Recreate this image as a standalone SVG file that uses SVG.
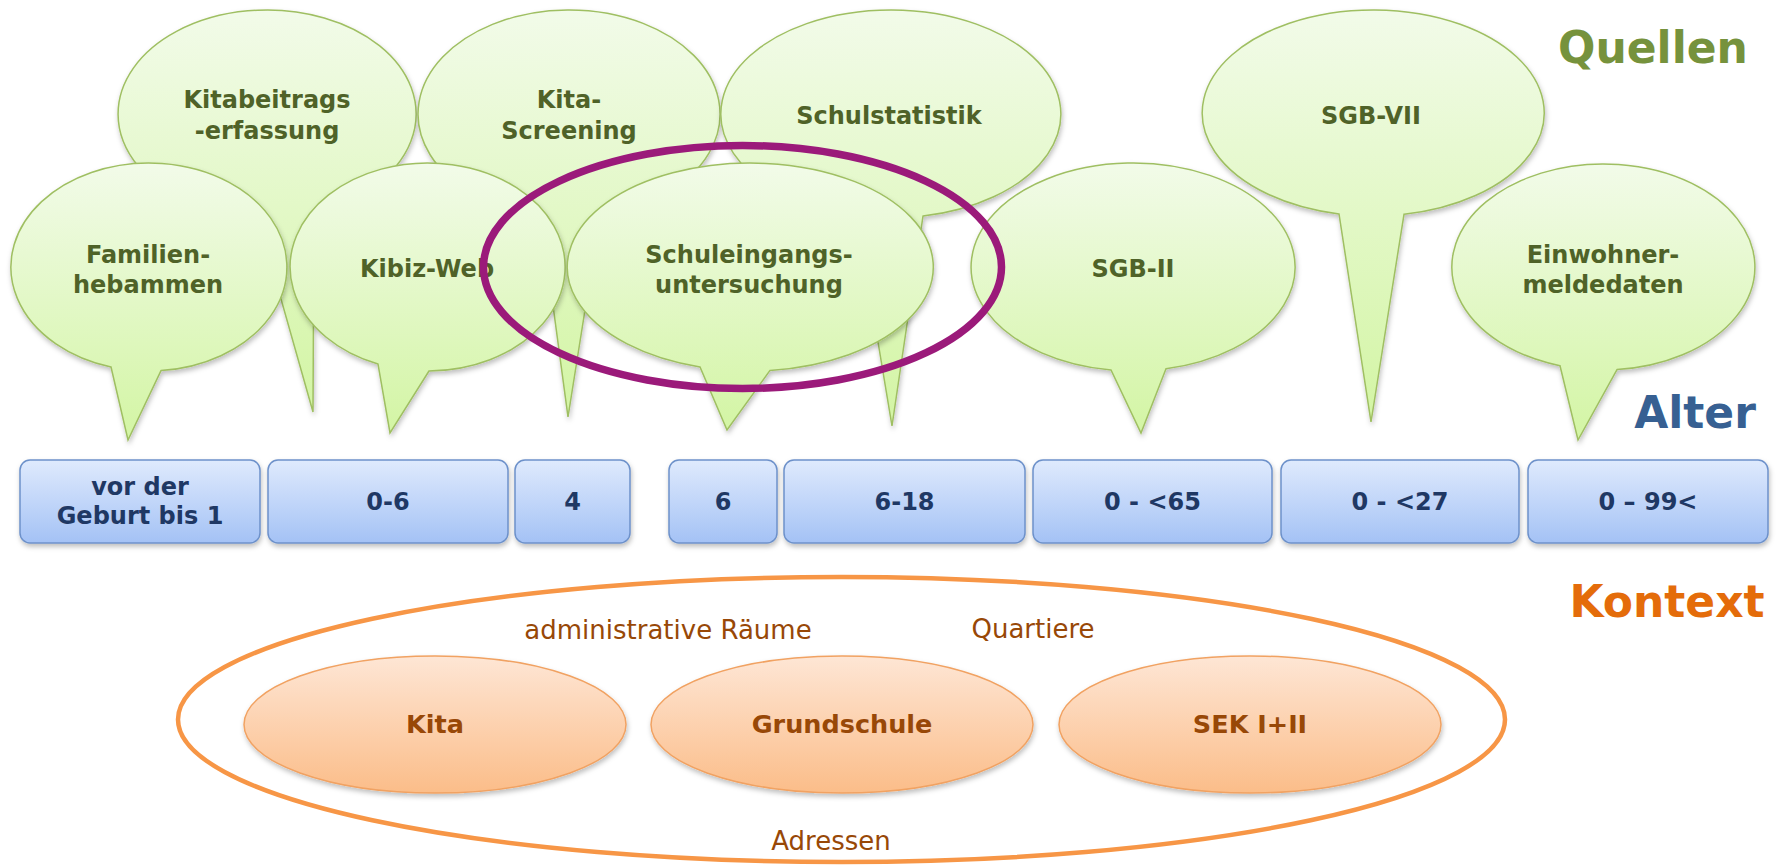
<svg xmlns="http://www.w3.org/2000/svg" width="1781" height="867" viewBox="0 0 1781 867">
<defs>
<linearGradient id="gG" x1="0" y1="0" x2="0" y2="1">
<stop offset="0" stop-color="#f2fbe9"/>
<stop offset="1" stop-color="#d3f5a4"/>
</linearGradient>
<linearGradient id="gB" x1="0" y1="0" x2="0" y2="1">
<stop offset="0" stop-color="#dfeafd"/>
<stop offset="1" stop-color="#a4c2f5"/>
</linearGradient>
<linearGradient id="gO" x1="0" y1="0" x2="0" y2="1">
<stop offset="0" stop-color="#fee6d5"/>
<stop offset="1" stop-color="#fbbd89"/>
</linearGradient>
<filter id="sh" x="-10%" y="-10%" width="120%" height="130%">
<feDropShadow dx="1" dy="3" stdDeviation="2.5" flood-color="#000" flood-opacity="0.25"/>
</filter>
</defs>
<style>
.bub{fill:url(#gG);stroke:#9fbf62;stroke-width:1.5;filter:url(#sh)}
.box{fill:url(#gB);stroke:#6d91ca;stroke-width:1.5;filter:url(#sh)}
.ctx{fill:url(#gO);stroke:#f1a262;stroke-width:1.5;filter:url(#sh)}
.bt{font-family:"DejaVu Sans",Verdana,sans-serif;font-weight:bold;font-size:24px;fill:#4f6228;text-anchor:middle}
.xt{font-family:"DejaVu Sans",Verdana,sans-serif;font-weight:bold;font-size:24px;fill:#1f3864;text-anchor:middle}
.ot{font-family:"DejaVu Sans",Verdana,sans-serif;font-weight:bold;font-size:25.5px;fill:#984807;text-anchor:middle}
.rt{font-family:"DejaVu Sans",Verdana,sans-serif;font-size:26px;fill:#984807;text-anchor:middle}
.hd{font-family:"DejaVu Sans",Verdana,sans-serif;font-weight:bold;font-size:44px;text-anchor:middle}
</style>
<rect width="1781" height="867" fill="#ffffff"/>

<!-- back row bubbles -->
<g id="kitabeitrags">
<path class="bub" d="M 314 212.7 L 313 412 L 258 217.8 A 149 104 0 1 1 314 212.7 Z"/>
<text class="bt" x="267" y="108">Kitabeitrags</text>
<text class="bt" x="267" y="139">-erfassung</text>
</g>
<g id="kita-screening">
<path class="bub" d="M 600 215.8 L 568 417 L 541 216.2 A 151 104 0 1 1 600 215.8 Z"/>
<text class="bt" x="569" y="108">Kita-</text>
<text class="bt" x="569" y="139">Screening</text>
</g>
<g id="schulstatistik">
<path class="bub" d="M 923 216.1 L 892 426 L 857 215.9 A 170 104 0 1 1 923 216.1 Z"/>
<text class="bt" x="889" y="124">Schulstatistik</text>
</g>
<g id="sgb-vii">
<path class="bub" d="M 1404 214.3 L 1371 422 L 1339 213.9 A 171 103 0 1 1 1404 214.3 Z"/>
<text class="bt" x="1371" y="124">SGB-VII</text>
</g>

<!-- front row bubbles -->
<g id="familienhebammen">
<path class="bub" d="M 161 370.6 L 128 440 L 111 367 A 138 104 0 1 1 161 370.6 Z"/>
<text class="bt" x="148" y="263">Familien-</text>
<text class="bt" x="148" y="293">hebammen</text>
</g>
<g id="kibiz-web">
<path class="bub" d="M 429 371 L 390 433 L 378 364 A 137.5 104 0 1 1 429 371 Z"/>
<text class="bt" x="427" y="277">Kibiz-Web</text>
</g>
<g id="schuleingangsuntersuchung">
<path class="bub" d="M 770 370.4 L 727 430 L 700 367 A 183 104 0 1 1 770 370.4 Z"/>
<text class="bt" x="749" y="263">Schuleingangs-</text>
<text class="bt" x="749" y="293">untersuchung</text>
</g>
<g id="sgb-ii">
<path class="bub" d="M 1166 368.8 L 1141 433 L 1111 370 A 162 104 0 1 1 1166 368.8 Z"/>
<text class="bt" x="1133" y="277">SGB-II</text>
</g>
<g id="einwohnermeldedaten">
<path class="bub" d="M 1617 369.6 L 1578 440 L 1560 365.7 A 151.5 103 0 1 1 1617 369.6 Z"/>
<text class="bt" x="1603" y="263">Einwohner-</text>
<text class="bt" x="1603" y="293">meldedaten</text>
</g>

<!-- highlight -->
<g id="highlight">
<ellipse cx="742.5" cy="267" rx="259" ry="121.5" fill="none" stroke="#9b1a7a" stroke-width="7.5"/>
</g>

<!-- headings -->
<g id="headings">
<text class="hd" x="1653" y="63" fill="#76923c">Quellen</text>
<text class="hd" x="1695" y="428" fill="#376092">Alter</text>
<text class="hd" x="1667" y="617" fill="#e46c0a">Kontext</text>
</g>

<!-- age boxes -->
<g id="age-vor-der-geburt">
<rect class="box" x="20" y="460" width="240" height="83" rx="10"/>
<text class="xt" x="140" y="495">vor der</text>
<text class="xt" x="140" y="524">Geburt bis 1</text>
</g>
<g id="age-0-6">
<rect class="box" x="268" y="460" width="240" height="83" rx="10"/>
<text class="xt" x="388" y="510">0-6</text>
</g>
<g id="age-4">
<rect class="box" x="515" y="460" width="115" height="83" rx="10"/>
<text class="xt" x="572.5" y="510">4</text>
</g>
<g id="age-6">
<rect class="box" x="669" y="460" width="108" height="83" rx="10"/>
<text class="xt" x="723" y="510">6</text>
</g>
<g id="age-6-18">
<rect class="box" x="784" y="460" width="241" height="83" rx="10"/>
<text class="xt" x="904.5" y="510">6-18</text>
</g>
<g id="age-0-65">
<rect class="box" x="1033" y="460" width="239" height="83" rx="10"/>
<text class="xt" x="1152.5" y="510">0 - &lt;65</text>
</g>
<g id="age-0-27">
<rect class="box" x="1281" y="460" width="238" height="83" rx="10"/>
<text class="xt" x="1400" y="510">0 - &lt;27</text>
</g>
<g id="age-0-99">
<rect class="box" x="1528" y="460" width="240" height="83" rx="10"/>
<text class="xt" x="1648" y="510">0 – 99&lt;</text>
</g>

<!-- context -->
<g id="context-outer">
<ellipse cx="841.5" cy="719.5" rx="663.5" ry="142.5" fill="none" stroke="#f79646" stroke-width="4.5"/>
<text class="rt" x="668" y="639">administrative Räume</text>
<text class="rt" x="1033" y="638">Quartiere</text>
<text class="rt" x="831" y="850">Adressen</text>
</g>
<g id="ctx-kita">
<ellipse class="ctx" cx="435" cy="724.5" rx="191" ry="68.5"/>
<text class="ot" x="435" y="733">Kita</text>
</g>
<g id="ctx-grundschule">
<ellipse class="ctx" cx="842" cy="724.5" rx="191" ry="68.5"/>
<text class="ot" x="842" y="733">Grundschule</text>
</g>
<g id="ctx-sek">
<ellipse class="ctx" cx="1250" cy="724.5" rx="191" ry="68.5"/>
<text class="ot" x="1250" y="733">SEK I+II</text>
</g>
</svg>
